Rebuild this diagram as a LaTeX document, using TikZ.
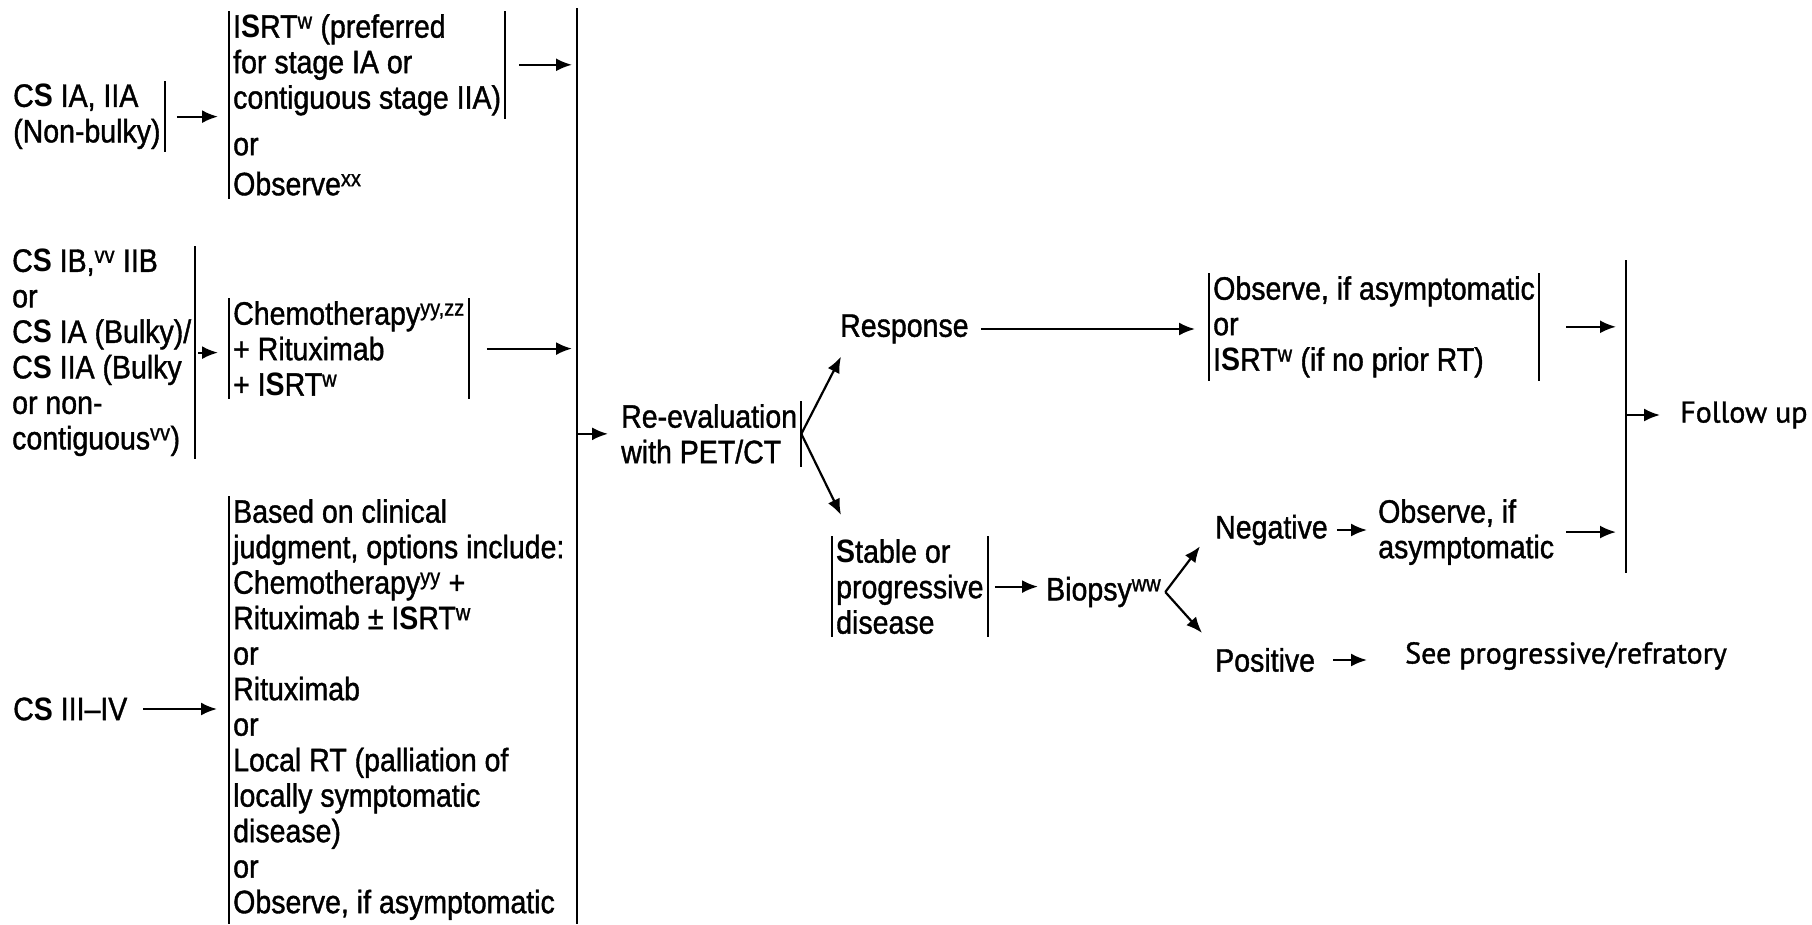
\documentclass[tikz,border=0pt]{standalone}
\usepackage{fontspec}
\setmainfont{Liberation Sans}[FakeStretch=0.88, UprightFeatures={FakeBold=1.2}]
\newfontfamily\fufont{PT Sans}[FakeBold=1.2]
\usepackage{tikz}
\usetikzlibrary{arrows.meta,positioning}
\tikzstyle{txt} = [align=left, inner xsep=4pt, inner ysep=3pt]
\tikzstyle{ptxt} = [txt, font=\fufont\fontsize{30}{36}\selectfont]
\tikzset{
  line/.style ={draw, line width=2.2pt, -{Latex[length=16pt,width=13pt]}},
  bar/.style ={draw, line width=2pt}
}

\begin{document}
\begin{tikzpicture}[x=1pt, y=-1pt, font=\fontsize{32.4}{35.5}\selectfont,
  every node/.style={txt, anchor=north west}]
  \useasboundingbox (0,0) rectangle (1812,924);

  % stages and first treatment
  \node (csa) at (9,81) {C\textbf{S} IA, IIA\\(Non-bulky)};
  \node (isrt) at (229,11) {I\textbf{S}RT\textsuperscript{w} (preferred\\for stage IA or\\contiguous stage IIA)};
  \node[below=16pt of isrt.south west, anchor=north west] (isrtor) {or\\[4.5pt]Observe\textsuperscript{xx}};
  \node (csb) at (8,246) {C\textbf{S} IB,\textsuperscript{vv} IIB\\or\\C\textbf{S} IA (Bulky)/\\C\textbf{S} IIA (Bulky\\or non-\\contiguous\textsuperscript{vv})};
  \node (chemo) at (229,298) {Chemotherapy\textsuperscript{yy,zz}\\+ Rituximab\\+ I\textbf{S}RT\textsuperscript{w}};
  \node[anchor=west] (cs34) at (9,709) {C\textbf{S} III–IV};
  \node (box34) at (229,496) {Based on clinical\\judgment, options include:\\Chemotherapy\textsuperscript{yy} +\\Rituximab ± I\textbf{S}RT\textsuperscript{w}\\or\\Rituximab\\or\\Local RT (palliation of\\locally symptomatic\\disease)\\or\\Observe, if asymptomatic};
  \coordinate (c1top) at (577,8);
  \coordinate (c1bot) at (577,924);

  % re-evaluation
  \node (reeval) at (617,401) {Re-evaluation\\with PET/CT};
  \node[anchor=west] (response) at (836,329) {Response};
  \node (stable) at (832,536) {\textbf{S}table or\\progressive\\disease};
  \node[anchor=west] (biopsy) at (1042,592) {Biopsy\textsuperscript{ww}};
  \node (obsa) at (1209,273) {Observe, if asymptomatic\\or\\I\textbf{S}RT\textsuperscript{w} (if no prior RT)};
  \node[anchor=west] (negative) at (1211,530) {Negative};
  \node[anchor=west] (positive) at (1211,660) {Positive};
  \node (obsb) at (1374,496) {Observe, if\\asymptomatic};
  \node[ptxt, anchor=west] (see) at (1401,656) {See progressive/refratory};
  \coordinate (c2top) at (1626,260);
  \coordinate (c2bot) at (1626,573);
  \node[ptxt, anchor=west] (follow) at (1676,415) {Follow up};

  % bars
  \draw[bar] (csa.north east) -- (csa.south east);
  \draw[bar] (isrt.north west) -- (isrtor.south west);
  \draw[bar] (isrt.north east) -- (isrt.south east);
  \draw[bar] (csb.north east) -- (csb.south east);
  \draw[bar] (chemo.north west) -- (chemo.south west) (chemo.north east) -- (chemo.south east);
  \draw[bar] (box34.north west) -- (box34.west |- c1bot);
  \draw[bar] (c1top) -- (c1bot);
  \draw[bar] (reeval.north east) -- (reeval.south east);
  \draw[bar] (stable.north west) -- (stable.south west) (stable.north east) -- (stable.south east);
  \draw[bar] (obsa.north west) -- (obsa.south west) (obsa.north east) -- (obsa.south east);
  \draw[bar] (c2top) -- (c2bot);

  \begin{scope}[every path/.style=line]
    \path[shorten <=12pt, shorten >=11pt] (csa.east) -- (csa.east -| isrt.west);
    \path[shorten <=14pt, shorten >=5pt] (isrt.east) -- (isrt.east -| c1top);
    \path[shorten <=3pt, shorten >=11pt] (csb.east) -- (csb.east -| chemo.west);
    \path[shorten <=18pt, shorten >=5pt] (chemo.east) -- (chemo.east -| c1top);
    \path[shorten <=12pt, shorten >=12pt] (cs34.east) -- (cs34.east -| box34.west);
    \path[shorten >=9pt] (reeval.west -| c1top) -- (reeval.west);
    \path (reeval.east) -- ([xshift=5pt,yshift=-10pt]response.south west);
    \path (reeval.east) -- ([xshift=9pt,yshift=21pt]stable.north west);
    \path[shorten <=8pt, shorten >=14pt] (response.east) -- (response.east -| obsa.west);
    \path[shorten <=27pt, shorten >=10pt] (obsa.east) -- (obsa.east -| c2top);
    \path[shorten <=7pt, shorten >=4pt] (stable.east) -- (stable.east -| biopsy.west);
    \path (biopsy.east) -- ([xshift=-11pt,yshift=2pt]negative.south west);
    \path (biopsy.east) -- ([xshift=-9pt,yshift=12pt]positive.north west);
    \path[shorten <=5pt, shorten >=7pt] (negative.east) -- (negative.east -| obsb.west);
    \path[shorten <=8pt, shorten >=10pt] (obsb.east) -- (obsb.east -| c2top);
    \path[shorten <=14pt, shorten >=34pt] (positive.east) -- (positive.east -| see.west);
    \path[shorten >=16pt] (follow.west -| c2top) -- (follow.west);
  \end{scope}
\end{tikzpicture}
\end{document}
